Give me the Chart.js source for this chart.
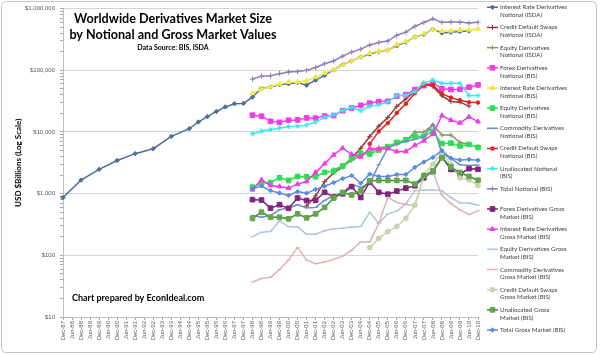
<!DOCTYPE html>
<html><head><meta charset="utf-8">
<script src="https://cdn.jsdelivr.net/npm/chart.js@4/dist/chart.umd.min.js"></script>
<style>html,body{margin:0;padding:0;background:#fff;}#wrap{width:600px;height:355px;position:relative;}canvas{display:block;}</style>
</head><body><div id="wrap"><canvas id="c" width="600" height="355"></canvas></div>
<script>
// ---------- DATA ----------
const categories = ["Dec-87","Jun-88","Dec-88","Jun-89","Dec-89","Jun-90","Dec-90","Jun-91","Dec-91","Jun-92","Dec-92","Jun-93","Dec-93","Jun-94","Dec-94","Jun-95","Dec-95","Jun-96","Dec-96","Jun-97","Dec-97","Jun-98","Dec-98","Jun-99","Dec-99","Jun-00","Dec-00","Jun-01","Dec-01","Jun-02","Dec-02","Jun-03","Dec-03","Jun-04","Dec-04","Jun-05","Dec-05","Jun-06","Dec-06","Jun-07","Dec-07","Jun-08","Dec-08","Jun-09","Dec-09","Jun-10","Dec-10"];

const yMajorTicks = [10, 100, 1000, 10000, 100000, 1000000];

// ISDA series (USD billions)
const irdNotionalIsda = [865.6,null,1657,null,2475,null,3450,null,4449,null,5346,null,8475,null,11303,14500,17713,21500,25453,28700,29035,36700,50997,53500,58265,60366,63009,57305,69207,82737,101318,123900,142306,164490,183583,201413,213194,250827,285728,347093,382302,464695,403072,414000,426750,434000,null];
const cdsNotionalIsdaStart = "Jun-01";
const cdsNotionalIsda = [631.5,918.9,1563.5,2191.6,2687.9,3779.4,5441.9,8422.3,12430,17096,26006,34423,45465,62173,54612,38564,31223,30428,26263];
const equityNotionalIsdaStart = "Dec-02";
const equityNotionalIsda = [2455,2780,3444,4151,4826,5553,5793,6383,7178,10002,9980,13100,8900,8900,6800,6300];

// BIS series from Jun-98
const bisStart = "Jun-98";
const forexNotionalBis = [18719,18011,14899,14344,15494,15666,16910,16748,18068,18448,22088,24475,26997,29289,31081,31364,38127,40271,48645,56238,62983,50042,48732,49181,53153,57796];
const irdNotionalBis = [42368,50015,54072,60091,64125,64668,67465,77568,89955,101658,121799,141991,164626,190502,204795,211970,261960,291582,346937,393138,458304,432657,437228,449875,451831,465260];
const equityNotionalBis = [1274,1488,1511,1809,1645,1891,1884,1881,2214,2309,2799,3787,4521,4385,5094,5793,6782,7488,8590,8469,10177,6471,6584,5937,6260,5635];
const commodityNotionalBis = [443,415,441,548,584,662,590,598,777,923,1040,1406,1270,1443,2940,5434,6394,7115,7567,8455,13229,4427,3729,2944,2852,2922];
const cdsBisStart = "Dec-04";
const cdsNotionalBis = [6396,10211,13908,20352,28650,42580,57894,57403,41883,36046,32693,30261,29898];
const unallocatedNotionalBis = [9300,10300,10900,11600,12200,12400,12900,14500,17200,18900,22400,25000,22100,26000,27500,30500,39000,39000,45200,61500,69500,61500,61500,61500,39000,39000];
const totalNotionalBis = [72107,80309,81458,88202,94008,95199,99755,111178,127509,141665,169658,197167,220058,257894,281493,297666,370178,414845,516407,595738,683814,598147,604617,603900,582685,601046];

const forexGrossBis = [799,786,582,662,578,849,773,779,1052,881,996,1301,867,1546,1050,980,1100,1230,1345,1807,2262,3917,2470,2070,2544,2482];
const irdGrossBis = [1160,1675,1357,1304,1230,1426,1573,2210,3062,4266,5459,4328,3951,5417,5306,5397,4826,4826,6063,7177,9263,18420,15478,14020,17533,14746];
const equityGrossBis = [201,236,244,359,293,289,220,220,250,270,276,288,294,498,330,470,520,680,1116,1142,1146,1113,860,708,706,648];
const commodityGrossBis = [37,42,44,59,84,133,84,73,78,86,97,121,165,165,330,871,718,667,636,1899,2209,946,689,545,457,526];
const cdsGrossBis = [133,188,243,294,400,650,2020,3000,4600,2987,1801,1666,1351];
const unallocatedGrossBis = [396,500,414,414,390,470,405,470,600,848,1048,952,1114,1619,1638,1638,1638,1638,1430,1943,2343,3810,2700,2200,1900,1650];
const totalGrossBis = [1203,1329,1119,1023,937,1080,1019,1171,1317,1511,1750,1969,1478,2075,1897,1900,2036,2045,2672,3256,3859,5005,3744,3520,3578,3480];

const seriesLabels = [
 ["Interest Rate Derivatives","Notional (ISDA)"],
 ["Credit Default Swaps","Notional (ISDA)"],
 ["Equity Derivatives","Notional (ISDA)"],
 ["Forex Derivatives","Notional (BIS)"],
 ["Interest Rate Derivatives","Notional (BIS)"],
 ["Equity Derivatives","Notional (BIS)"],
 ["Commodity Derivatives","Notional (BIS)"],
 ["Credit Default Swaps","Notional (BIS)"],
 ["Unallocated Notional","(BIS)"],
 ["Total Notional (BIS)"],
 ["Forex Derivatives Gross","Market (BIS)"],
 ["Interest Rate Derivatives","Gross Market (BIS)"],
 ["Equity Derivatives Gross","Market (BIS)"],
 ["Commodity Derivatives","Gross Market (BIS)"],
 ["Credit Default Swaps","Gross Market (BIS)"],
 ["Unallocated Gross","Market (BIS)"],
 ["Total Gross Market (BIS)"]
];

// ---------- helpers ----------
function place(startLabel, values){
  const out = new Array(categories.length).fill(null);
  const s = categories.indexOf(startLabel);
  values.forEach((v,i)=>{ out[s+i] = v; });
  return out;
}
const seriesData = [
 irdNotionalIsda,
 place(cdsNotionalIsdaStart, cdsNotionalIsda),
 place(equityNotionalIsdaStart, equityNotionalIsda),
 place(bisStart, forexNotionalBis),
 place(bisStart, irdNotionalBis),
 place(bisStart, equityNotionalBis),
 place(bisStart, commodityNotionalBis),
 place(cdsBisStart, cdsNotionalBis),
 place(bisStart, unallocatedNotionalBis),
 place(bisStart, totalNotionalBis),
 place(bisStart, forexGrossBis),
 place(bisStart, irdGrossBis),
 place(bisStart, equityGrossBis),
 place(bisStart, commodityGrossBis),
 place(cdsBisStart, cdsGrossBis),
 place(bisStart, unallocatedGrossBis),
 place(bisStart, totalGrossBis)
];

// ---------- styles ----------
const styles = [
 {line:'#4E6E9B', fill:'#4E6E9B', pt:'rectRot', r:2.2},
 {line:'#953735', fill:'#953735', pt:'cross', r:2.5},
 {line:'#8C9B5D', fill:'#8C9B5D', pt:'cross', r:2.5},
 {line:'#F03CE8', fill:'#F03CE8', pt:'rect', r:3.3},
 {line:'#ECE35C', fill:'#F0E83E', pt:'triangle', r:2.8},
 {line:'#2EDD55', fill:'#2EDD55', pt:'rect', r:3.3},
 {line:'#6C8DC9', fill:'#6C8DC9', pt:'line', r:2.2},
 {line:'#E02424', fill:'#E02424', pt:'circle', r:1.8},
 {line:'#3CE6F3', fill:'#3CE6F3', pt:'star', r:2.6},
 {line:'#8F7BB9', fill:'#8F7BB9', pt:'cross', r:2.6},
 {line:'#84237E', fill:'#84237E', pt:'rect', r:3.3},
 {line:'#F03CE8', fill:'#F03CE8', pt:'triangle', r:2.8},
 {line:'#B2C5E0', fill:'#B2C5E0', pt:'line', r:2},
 {line:'#E0B2B2', fill:'#E0B2B2', pt:'line', r:2},
 {line:'#C6D5B1', fill:'#C6D5B1', pt:'circle', r:2.4},
 {line:'#3F8B38', fill:'#62A84A', pt:'rect', r:3.3},
 {line:'#5C8BE0', fill:'#5C8BE0', pt:'rectRot', r:2.2}
];

const datasets = seriesData.map((d,i)=>({
  label: seriesLabels[i].join(' '),
  data: d,
  borderColor: styles[i].line,
  backgroundColor: styles[i].fill,
  pointBackgroundColor: styles[i].fill,
  pointBorderColor: styles[i].pt==='rect'||styles[i].pt==='triangle'||styles[i].pt==='circle'||styles[i].pt==='rectRot' ? styles[i].fill : styles[i].line,
  pointStyle: styles[i].pt,
  pointRadius: styles[i].r,
  pointBorderWidth: 1,
  borderWidth: 1.5,
  tension: 0,
  spanGaps: true,
  clip: false,
  order: -i
}));

const minorTicks = [];
yMajorTicks.forEach(m=>{ if(m<1000000){ for(let k=1;k<10;k++) minorTicks.push(m*k); } else minorTicks.push(m); });

// ---------- decorations ----------
const deco = {
  id:'deco',
  beforeDraw(chart){
    const c = chart.ctx; c.save(); c.fillStyle='#fff'; c.fillRect(0,0,chart.width,chart.height); c.restore();
  },
  afterDraw(chart){
    const c = chart.ctx;
    c.save();
    // frame
    c.strokeStyle = '#C4C4C4'; c.lineWidth = 1;
    const x0=1.5,y0=1.5,x1=596.5,y1=352.5,rr=5;
    c.beginPath();
    c.moveTo(x0+rr,y0); c.lineTo(x1-rr,y0); c.quadraticCurveTo(x1,y0,x1,y0+rr);
    c.lineTo(x1,y1-rr); c.quadraticCurveTo(x1,y1,x1-rr,y1);
    c.lineTo(x0+rr,y1); c.quadraticCurveTo(x0,y1,x0,y1-rr);
    c.lineTo(x0,y0+rr); c.quadraticCurveTo(x0,y0,x0+rr,y0); c.stroke();
    // titles
    c.fillStyle = '#000'; c.textAlign='center'; c.textBaseline='middle';
    c.font = 'bold 12.6px Lato';
    c.fillText('Worldwide Derivatives Market Size', 173, 19);
    c.fillText('by Notional and Gross Market Values', 173, 35);
    c.font = 'bold 7px Lato';
    c.fillText('Data Source: BIS, ISDA', 173, 48);
    c.textAlign='left';
    c.font = 'bold 9px Lato';
    c.fillText('Chart prepared by EconIdeal.com', 72, 298);
    // legend
    c.font = '6.2px Lato';
    c.textBaseline='middle';
    styles.forEach((s,i)=>{
      const y = 7.3 + 20.17*i;
      c.strokeStyle = s.line; c.lineWidth = 1.5;
      c.beginPath(); c.moveTo(487,y); c.lineTo(498,y); c.stroke();
      c.fillStyle = s.fill; c.strokeStyle = datasets[i].pointBorderColor; c.lineWidth=1;
      Chart.helpers.drawPoint(c, {pointStyle:s.pt, radius:s.r, rotation:0, borderWidth:1}, 492.5, y);
      c.fillStyle = '#404040';
      seriesLabels[i].forEach((t,k)=> c.fillText(t, 500, y + 7.7*k));
    });
    c.restore();
  }
};

new Chart(document.getElementById('c').getContext('2d'), {
  type:'line',
  data:{ labels: categories, datasets },
  options:{
    responsive:false, animation:false, devicePixelRatio:1,
    layout:{ padding:{ left:0, right:122, top:6, bottom:0 } },
    plugins:{ legend:{display:false}, tooltip:{enabled:false}, title:{display:false} },
    scales:{
      x:{
        type:'category', offset:false,
        afterFit(s){ s.height = 38; },
        grid:{ drawOnChartArea:false, tickLength:3, tickColor:'#A6A6A6' },
        border:{ color:'#BFBFBF' },
        ticks:{ autoSkip:false, maxRotation:90, minRotation:90, font:{family:'Liberation Sans', size:6}, color:'#595959', padding:1 }
      },
      y:{
        type:'logarithmic', min:10, max:1000000,
        afterBuildTicks(s){ s.ticks = minorTicks.map(v=>({value:v, major: yMajorTicks.includes(v)})); },
        afterFit(s){ s.width = 63; },
        ticks:{ autoSkip:false, font:{family:'Liberation Sans', size:6}, color:'#595959', padding:5,
          callback:(v)=> yMajorTicks.includes(v) ? '$'+Number(v).toLocaleString('en-US') : '' },
        grid:{ color:(ctx)=> (ctx.tick && yMajorTicks.includes(ctx.tick.value)) ? '#D4D4D4' : 'rgba(0,0,0,0)', tickColor:'#A6A6A6', tickLength:3 },
        border:{ color:'#BFBFBF' },
        title:{ display:true, text:'USD $Billions (Log Scale)', font:{family:'Lato', size:8, weight:'bold'}, color:'#000', padding:{top:14,bottom:0} }
      }
    }
  },
  plugins:[deco]
});
</script></body></html>
